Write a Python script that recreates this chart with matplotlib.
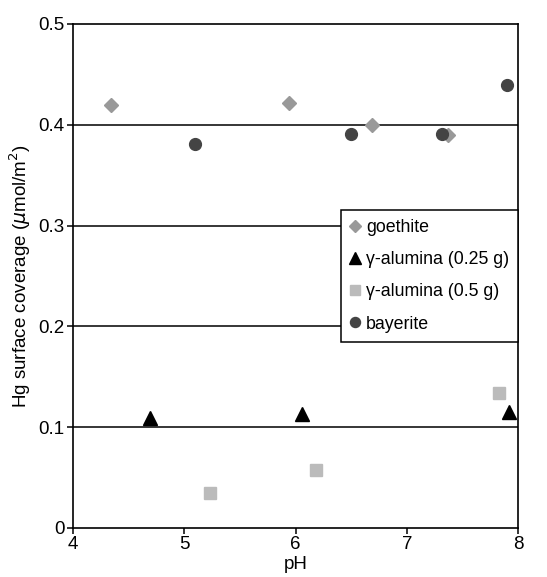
import matplotlib.pyplot as plt

plt.rcParams['font.family'] = ['Liberation Sans', 'DejaVu Sans']

# Data
goethite_ph = [4.34, 5.94, 6.69, 7.37]
goethite_hg = [0.420, 0.422, 0.400, 0.390]

alumina25_ph = [4.69, 6.06, 7.92]
alumina25_hg = [0.109, 0.113, 0.115]

alumina05_ph = [5.23, 6.18, 7.83]
alumina05_hg = [0.035, 0.057, 0.134]

bayerite_ph = [5.10, 6.50, 7.32, 7.90]
bayerite_hg = [0.381, 0.391, 0.391, 0.439]

y_ticks = [0, 0.1, 0.2, 0.3, 0.4, 0.5]
y_labels = ['0', '0.1', '0.2', '0.3', '0.4', '0.5']

fig = plt.figure(figsize=(5.47, 5.77), dpi=100)
ax = fig.add_axes([0.1335, 0.085, 0.8135, 0.8735])

for y in y_ticks[1:-1]:
    ax.axhline(y, color='black', linewidth=1.1, zorder=1)

ax.plot(goethite_ph, goethite_hg, linestyle='none', marker='D', markersize=7.2,
        color='#999999', label='goethite', zorder=3)
ax.plot(alumina25_ph, alumina25_hg, linestyle='none', marker='^', markersize=9.5,
        color='black', label='\u03b3-alumina (0.25 g)', zorder=3)
ax.plot(alumina05_ph, alumina05_hg, linestyle='none', marker='s', markersize=9,
        color='#bbbbbb', label='\u03b3-alumina (0.5 g)', zorder=3)
ax.plot(bayerite_ph, bayerite_hg, linestyle='none', marker='o', markersize=8.5,
        color='#444444', label='bayerite', zorder=3)

ax.set_xlim(4, 8)
ax.set_ylim(0, 0.5)
ax.set_xticks([4, 5, 6, 7, 8])
ax.set_yticks(y_ticks)
ax.set_yticklabels(y_labels)
ax.tick_params(labelsize=13.5, length=4, width=1.1, direction='out', pad=2)
for side in ['top', 'bottom', 'left', 'right']:
    ax.spines[side].set_linewidth(1.2)

ax.set_xlabel('pH', fontsize=13.5, labelpad=2)
ax.set_ylabel('Hg surface coverage ($\\mu$mol/m$^2$)', fontsize=13.5, labelpad=4)

leg = ax.legend(loc='upper right', bbox_to_anchor=(1.0, 0.631), fontsize=12.8,
                frameon=True, fancybox=False, edgecolor='black',
                handlelength=0.55, handletextpad=0.35, borderpad=0.5,
                labelspacing=0.86, borderaxespad=0, markerscale=0.85)
leg.get_frame().set_linewidth(1.1)
leg.get_frame().set_alpha(1)

plt.savefig('out.png', dpi=100)
